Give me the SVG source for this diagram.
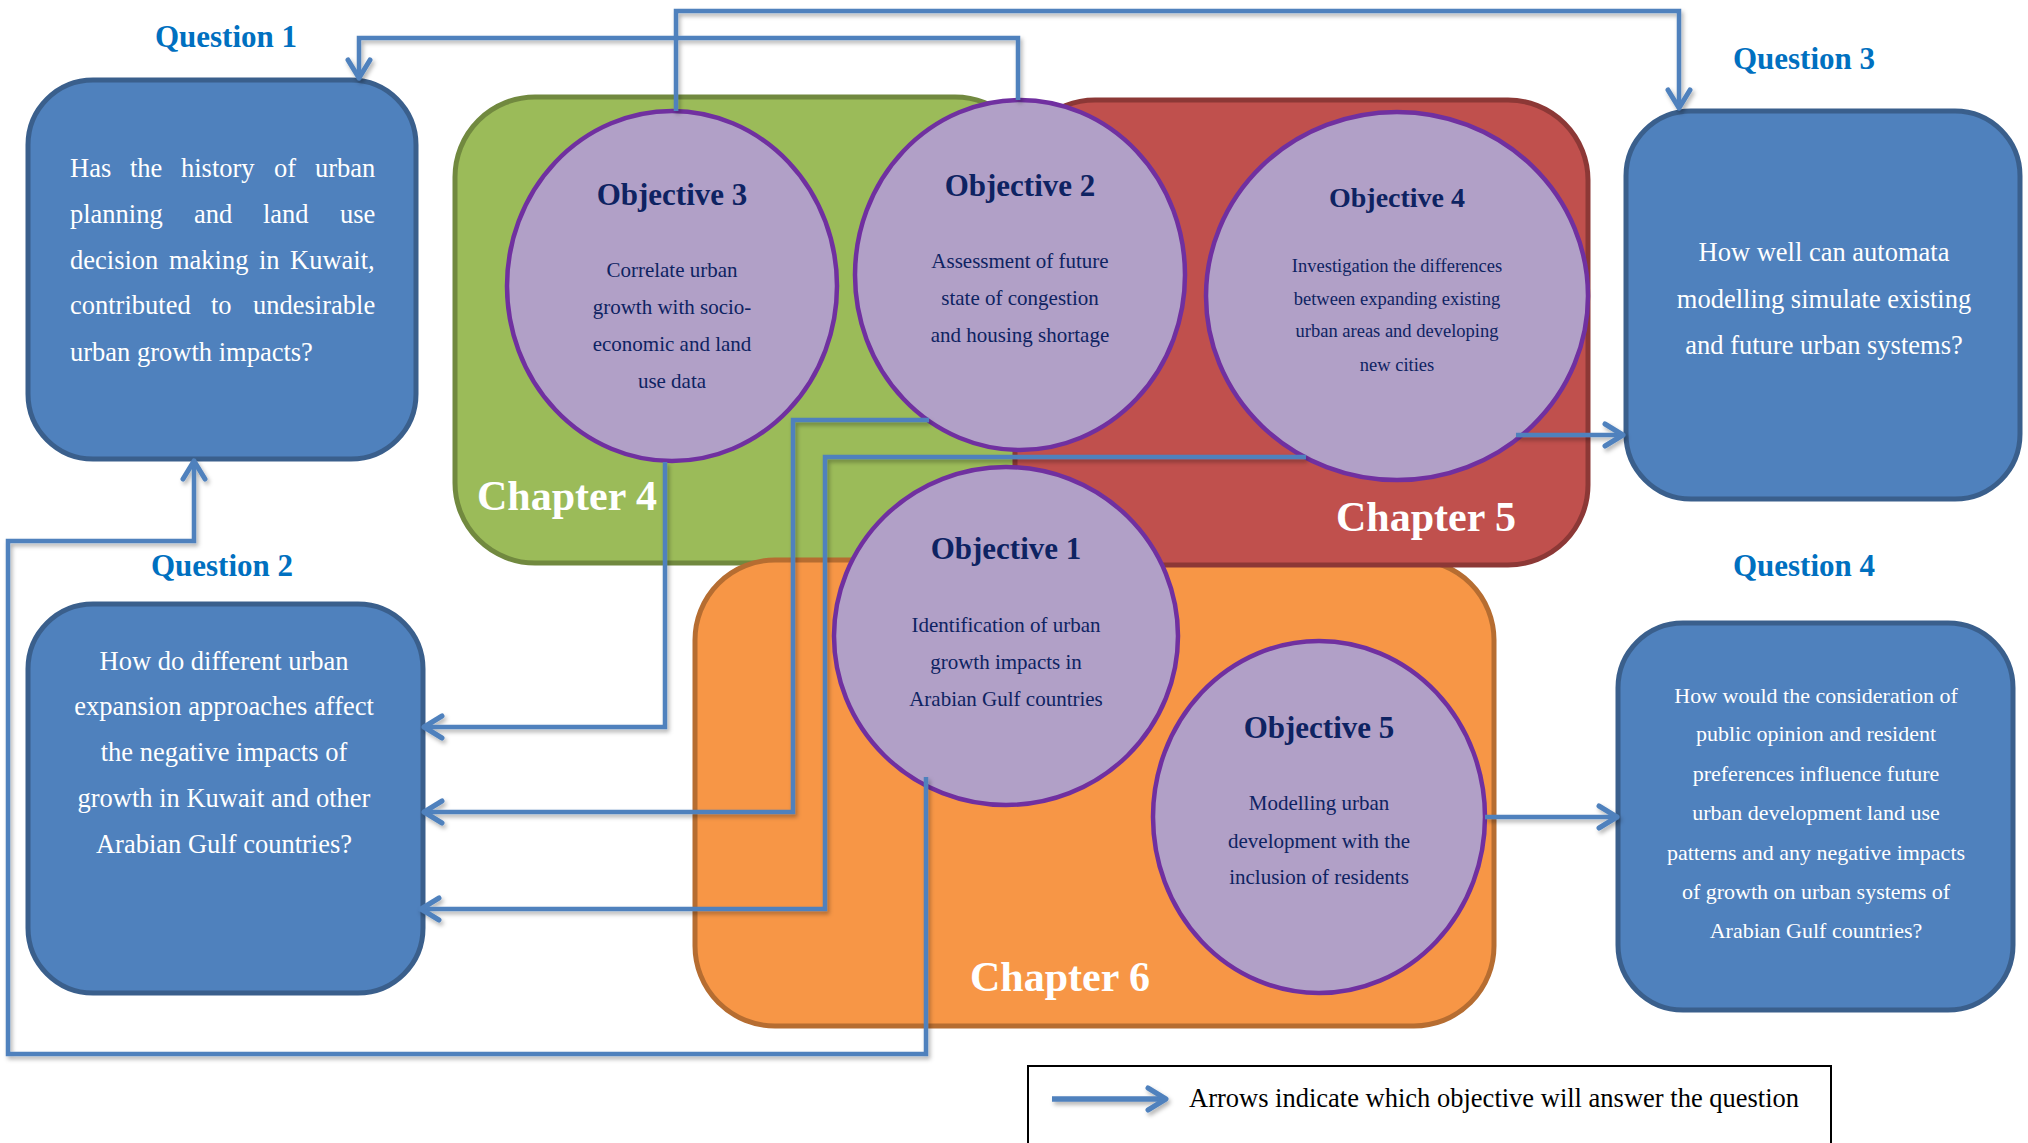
<svg xmlns="http://www.w3.org/2000/svg" width="2028" height="1143" viewBox="0 0 2028 1143">
<defs>
<style>
.qbox{fill:#4F81BD;stroke:#3A5F8C;stroke-width:5}
.obj{fill:#B1A0C7;stroke:#7030A0;stroke-width:4.5}
.qlab{font-family:"Liberation Serif","Times New Roman",serif;font-weight:bold;font-size:31px;fill:#0070C0;text-anchor:middle}
.qtxt{font-family:"Liberation Serif","Times New Roman",serif;font-size:26.5px;fill:#FFFFFF}
.qtc{text-anchor:middle}
.q4t{font-family:"Liberation Serif","Times New Roman",serif;font-size:22px;fill:#FFFFFF;text-anchor:middle}
.otit{font-family:"Liberation Serif","Times New Roman",serif;font-weight:bold;font-size:31px;fill:#0E2362;text-anchor:middle}
.otxt{font-family:"Liberation Serif","Times New Roman",serif;font-size:21px;fill:#0E2362;text-anchor:middle}
.chap{font-family:"Liberation Serif","Times New Roman",serif;font-weight:bold;font-size:42px;fill:#FFFFFF}
.con{fill:none;stroke:#4F81BD;stroke-width:4.5;stroke-linejoin:miter}
.arr{marker-end:url(#ah)}
</style>
<marker id="ah" viewBox="0 0 26 28" refX="22" refY="14" markerWidth="26" markerHeight="28" markerUnits="userSpaceOnUse" orient="auto">
<path d="M4,3 L22,14 L4,25" fill="none" stroke="#4F81BD" stroke-width="5" stroke-linecap="round" stroke-linejoin="round"/>
</marker>
<filter id="sh" filterUnits="userSpaceOnUse" x="0" y="0" width="2028" height="1143">
<feDropShadow dx="2" dy="3" stdDeviation="2" flood-color="#000" flood-opacity="0.3"/>
</filter>
</defs>
<rect width="2028" height="1143" fill="#FFFFFF"/>

<g id="chapter4">
<rect x="455" y="97" width="580" height="466" rx="80" fill="#9BBB59" stroke="#71893F" stroke-width="5"/>
</g>
<g id="chapter6">
<rect x="695" y="560" width="799" height="466" rx="80" fill="#F79646" stroke="#B66D31" stroke-width="5"/>
</g>
<g id="chapter5">
<rect x="1015" y="100" width="573" height="465" rx="80" fill="#C0504D" stroke="#8C3836" stroke-width="5"/>
</g>
<text class="chap" x="477" y="510">Chapter 4</text>
<text class="chap" x="1336" y="531">Chapter 5</text>
<text class="chap" x="970" y="991">Chapter 6</text>

<g id="objective3">
<ellipse class="obj" cx="672" cy="286" rx="165" ry="175"/>
<text class="otit" x="672" y="205">Objective 3</text>
<text class="otxt" x="672" y="277">Correlate urban</text>
<text class="otxt" x="672" y="314">growth with socio-</text>
<text class="otxt" x="672" y="351">economic and land</text>
<text class="otxt" x="672" y="388">use data</text>
</g>
<g id="objective2">
<ellipse class="obj" cx="1020" cy="275" rx="165" ry="175"/>
<text class="otit" x="1020" y="196">Objective 2</text>
<text class="otxt" x="1020" y="268">Assessment of future</text>
<text class="otxt" x="1020" y="305">state of congestion</text>
<text class="otxt" x="1020" y="342">and housing shortage</text>
</g>
<g id="objective4">
<ellipse class="obj" cx="1397" cy="296" rx="191" ry="184"/>
<text class="otit" x="1397" y="207" style="font-size:28px">Objective 4</text>
<text class="otxt" x="1397" y="272" style="font-size:18.5px">Investigation the differences</text>
<text class="otxt" x="1397" y="305" style="font-size:18.5px">between expanding existing</text>
<text class="otxt" x="1397" y="337" style="font-size:18.5px">urban areas and developing</text>
<text class="otxt" x="1397" y="371" style="font-size:18.5px">new cities</text>
</g>
<g id="objective1">
<ellipse class="obj" cx="1006" cy="636" rx="172" ry="169"/>
<text class="otit" x="1006" y="559">Objective 1</text>
<text class="otxt" x="1006" y="632">Identification of urban</text>
<text class="otxt" x="1006" y="669">growth impacts in</text>
<text class="otxt" x="1006" y="706">Arabian Gulf countries</text>
</g>
<g id="objective5">
<ellipse class="obj" cx="1319" cy="817" rx="166" ry="176"/>
<text class="otit" x="1319" y="738">Objective 5</text>
<text class="otxt" x="1319" y="810">Modelling urban</text>
<text class="otxt" x="1319" y="848">development with the</text>
<text class="otxt" x="1319" y="884">inclusion of residents</text>
</g>

<g id="question1">
<text class="qlab" x="226" y="47">Question 1</text>
<rect class="qbox" x="28" y="80" width="388" height="379" rx="65"/>
<text class="qtxt" y="177"><tspan x="70">Has</tspan><tspan x="130">the</tspan><tspan x="181">history</tspan><tspan x="274">of</tspan><tspan x="315">urban</tspan></text>
<text class="qtxt" y="223"><tspan x="70">planning</tspan><tspan x="194">and</tspan><tspan x="263">land</tspan><tspan x="340">use</tspan></text>
<text class="qtxt" y="269"><tspan x="70">decision</tspan><tspan x="169">making</tspan><tspan x="259">in</tspan><tspan x="290">Kuwait,</tspan></text>
<text class="qtxt" y="314"><tspan x="70">contributed</tspan><tspan x="211">to</tspan><tspan x="253">undesirable</tspan></text>
<text class="qtxt" x="70" y="361">urban growth impacts?</text>
</g>
<g id="question2">
<text class="qlab" x="222" y="576">Question 2</text>
<rect class="qbox" x="28" y="604" width="395" height="389" rx="65"/>
<text class="qtxt qtc" x="224" y="670">How do different urban</text>
<text class="qtxt qtc" x="224" y="715">expansion approaches affect</text>
<text class="qtxt qtc" x="224" y="761">the negative impacts of</text>
<text class="qtxt qtc" x="224" y="807">growth in Kuwait and other</text>
<text class="qtxt qtc" x="224" y="853">Arabian Gulf countries?</text>
</g>
<g id="question3">
<text class="qlab" x="1804" y="69">Question 3</text>
<rect class="qbox" x="1626" y="111" width="394" height="388" rx="65"/>
<text class="qtxt qtc" x="1824" y="261">How well can automata</text>
<text class="qtxt qtc" x="1824" y="308">modelling simulate existing</text>
<text class="qtxt qtc" x="1824" y="354">and future urban systems?</text>
</g>
<g id="question4">
<text class="qlab" x="1804" y="576">Question 4</text>
<rect class="qbox" x="1618" y="623" width="395" height="387" rx="65"/>
<text class="q4t" x="1816" y="703">How would the consideration of</text>
<text class="q4t" x="1816" y="741">public opinion and resident</text>
<text class="q4t" x="1816" y="781">preferences influence future</text>
<text class="q4t" x="1816" y="820">urban development land use</text>
<text class="q4t" x="1816" y="860">patterns and any negative impacts</text>
<text class="q4t" x="1816" y="899">of growth on urban systems of</text>
<text class="q4t" x="1816" y="938">Arabian Gulf countries?</text>
</g>

<g id="connectors" filter="url(#sh)">
<polyline class="con arr" points="1018,100 1018,38 359,38 359,78"/>
<polyline class="con arr" points="676,111 676,11 1679,11 1679,108"/>
<polyline class="con arr" points="1516,435 1623,435"/>
<polyline class="con arr" points="665,462 665,727 424,727"/>
<polyline class="con arr" points="929,420 793,420 793,812 424,812"/>
<polyline class="con arr" points="1306,457 825,457 825,909 421,909"/>
<polyline class="con arr" points="926,777 926,1054 8,1054 8,541 194,541 194,461"/>
<polyline class="con arr" points="1485,817 1617,817"/>
</g>

<g id="legend">
<rect x="1028" y="1066" width="803" height="120" fill="none" stroke="#000000" stroke-width="2"/>
<g filter="url(#sh)"><polyline class="con arr" points="1052,1099 1166,1099" style="stroke-width:5.5"/></g>
<text class="qtxt" x="1189" y="1107" style="fill:#000000">Arrows indicate which objective will answer the question</text>
</g>
</svg>
